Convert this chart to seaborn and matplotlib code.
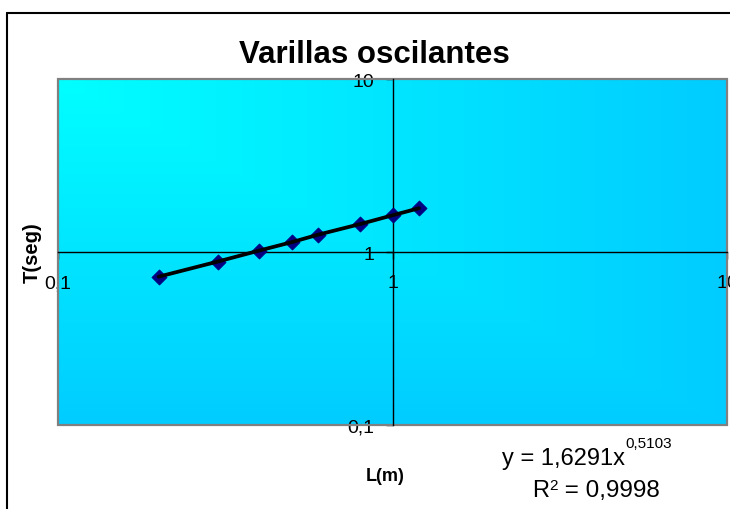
import numpy as np
import matplotlib
matplotlib.use("Agg")
import matplotlib.pyplot as plt
import seaborn as sns
import pandas as pd
from matplotlib.lines import Line2D
from matplotlib.patches import Rectangle

# ---- data ----
L_m = [0.2, 0.3, 0.4, 0.5, 0.6, 0.8, 1.0, 1.2]
T_seg = [0.72, 0.88, 1.02, 1.14, 1.26, 1.45, 1.63, 1.79]
x_ticks = [0.1, 1, 10]
x_tick_labels = ["0,1", "1", "10"]
y_ticks = [0.1, 1, 10]
y_tick_labels = ["0,1", "1", "10"]
title = "Varillas oscilantes"
x_label = "L(m)"
y_label = "T(seg)"
eq_main = "y = 1,6291x"
eq_exp = "0,5103"
r2_main = "R"
r2_exp = "2"
r2_rest = " = 0,9998"

sns.set_theme(style="white")
plt.rcParams["font.family"] = ["Liberation Sans", "DejaVu Sans"]

W, H = 730, 510
fig = plt.figure(figsize=(W / 100, H / 100), dpi=100)
fig.patch.set_facecolor("white")

# outer chart frame (extends beyond right/bottom)
fig.add_artist(Line2D([7 / W, 1.01], [1 - 14 / H, 1 - 14 / H], color="black", lw=1.5))
fig.add_artist(Line2D([7 / W, 7 / W], [1 - 14 / H, -0.01], color="black", lw=1.5))

ax = fig.add_axes([58 / W, (H - 426) / H, 669 / W, 346 / H])
ax.set_xscale("log")
ax.set_yscale("log")

df = pd.DataFrame({"L": L_m, "T": T_seg})
sns.scatterplot(data=df, x="L", y="T", marker="D", s=60, color="#000080",
                edgecolor="#000080", linewidth=0.5, ax=ax, zorder=4)
sns.lineplot(data=df, x="L", y="T", color="black", linewidth=2.7, ax=ax, zorder=5)

ax.set_xlim(0.1, 10)
ax.set_ylim(0.1, 10)

# gradient background (from top-left corner)
u = np.linspace(0, 1, 400)[None, :]
v = np.linspace(0, 1, 300)[:, None]
t = np.maximum(u, v)
c0 = np.array([0, 255, 255]) / 255
c1 = np.array([0, 204, 255]) / 255
img = c0 + (c1 - c0) * t[..., None]
ax.imshow(img, extent=(0, 1, 0, 1), transform=ax.transAxes, aspect="auto",
          origin="upper", zorder=0)
ax.set_xlim(0.1, 10)
ax.set_ylim(0.1, 10)

# axes crossing at 1,1
ax.spines["left"].set_position(("data", 1))
ax.spines["bottom"].set_position(("data", 1))
for s in ["left", "bottom"]:
    ax.spines[s].set_color("black")
    ax.spines[s].set_linewidth(1.0)
    ax.spines[s].set_zorder(3)
ax.spines["top"].set_visible(False)
ax.spines["right"].set_visible(False)
ax.add_patch(Rectangle((0, 0), 1, 1, transform=ax.transAxes, fill=False,
                       edgecolor="#808080", lw=1.6, zorder=1, clip_on=False))

ax.set_xticks(x_ticks, labels=x_tick_labels)
ax.set_yticks(y_ticks, labels=y_tick_labels)
ax.minorticks_off()
ax.tick_params(axis="both", which="major", direction="out", length=5, width=1,
               color="black", labelsize=14, labelcolor="black",
               bottom=True, left=True, top=False, right=False)
ax.tick_params(axis="x", pad=11)
ax.tick_params(axis="y", pad=8)

ax.set_xlabel(x_label, fontsize=13, fontweight="bold", color="black")
ax.xaxis.set_label_coords(0.489, -0.121)
ax.set_ylabel(y_label, fontsize=14.5, fontweight="bold", color="black")
ax.yaxis.set_label_coords(-0.025, 0.5)

fig.text(374 / W, 1 - 63 / H, title, ha="center", va="baseline",
         fontsize=22.5, fontweight="bold", color="black")

# trendline equation
eq_fs = 17
t1 = fig.text(502 / W, 1 - 465 / H, eq_main, ha="left", va="baseline",
              fontsize=eq_fs, color="black")
ax.annotate(eq_exp, xy=(1, 0), xycoords=t1, xytext=(0.5, 15.5),
            textcoords="offset points", ha="left", va="baseline",
            fontsize=11, color="black", annotation_clip=False)
t2 = fig.text(532 / W, 1 - 497 / H, r2_main, ha="left", va="baseline",
              fontsize=eq_fs, color="black")
t3 = ax.annotate(r2_exp, xy=(1, 0), xycoords=t2, xytext=(0.5, 8.5),
                 textcoords="offset points", ha="left", va="baseline",
                 fontsize=11, color="black", annotation_clip=False)
ax.annotate(r2_rest, xy=(1, 0), xycoords=(t3, t2), ha="left", va="bottom",
            fontsize=17.5, color="black", annotation_clip=False)

fig.savefig("out.png", dpi=100, facecolor="white")
